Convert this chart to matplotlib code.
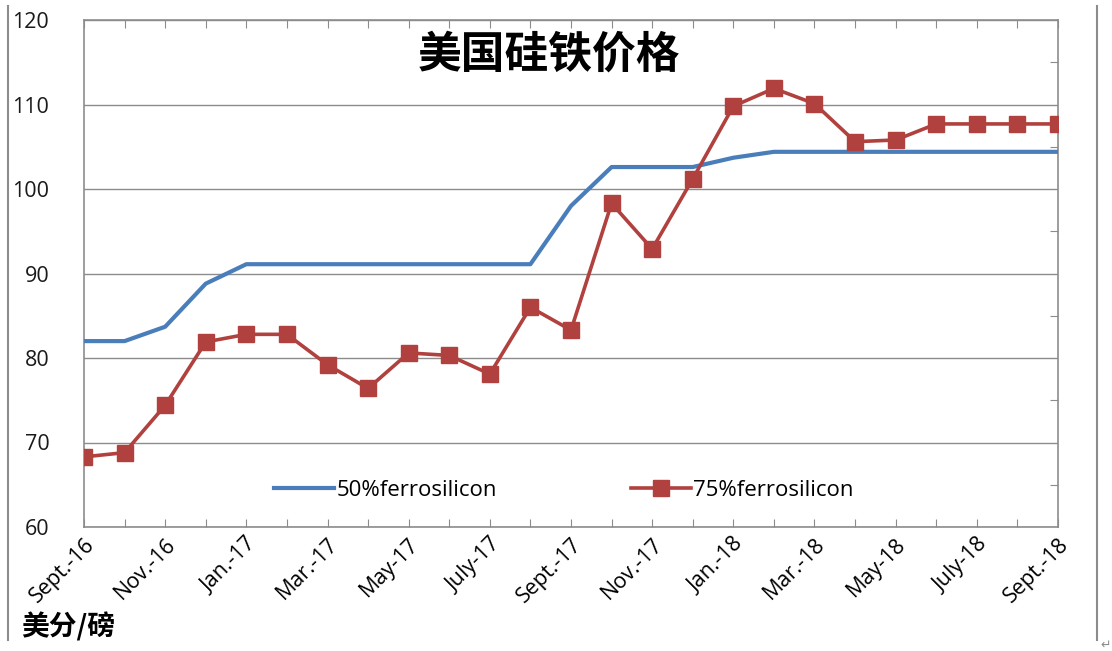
import matplotlib
matplotlib.use("Agg")
import matplotlib.pyplot as plt
from matplotlib.ticker import MultipleLocator, FixedLocator
from matplotlib.lines import Line2D

plt.rcParams['font.family'] = ['Open Sans', 'Noto Sans CJK SC', 'DejaVu Sans']

months = ["Sept.-16", "Oct.-16", "Nov.-16", "Dec.-16", "Jan.-17", "Feb.-17", "Mar.-17",
          "Apr.-17", "May-17", "June-17", "July-17", "Aug.-17", "Sept.-17", "Oct.-17",
          "Nov.-17", "Dec.-17", "Jan.-18", "Feb.-18", "Mar.-18", "Apr.-18", "May-18",
          "June-18", "July-18", "Aug.-18", "Sept.-18"]
fesi50 = [82.0, 82.0, 83.7, 88.8, 91.1, 91.1, 91.1, 91.1, 91.1, 91.1, 91.1, 91.1, 98.0,
          102.6, 102.6, 102.6, 103.7, 104.4, 104.4, 104.4, 104.4, 104.4, 104.4, 104.4, 104.4]
fesi75 = [68.3, 68.8, 74.4, 81.9, 82.8, 82.8, 79.2, 76.4, 80.6, 80.3, 78.1, 86.0, 83.3,
          98.3, 92.9, 101.2, 109.8, 111.9, 110.1, 105.6, 105.8, 107.7, 107.7, 107.7, 107.7]
labels_shown = ["Sept.-16", "Nov.-16", "Jan.-17", "Mar.-17", "May-17", "July-17", "Sept.-17",
                "Nov.-17", "Jan.-18", "Mar.-18", "May-18", "July-18", "Sept.-18"]
title = "美国硅铁价格"
unit = "美分/磅"
series_names = ["50%ferrosilicon", "75%ferrosilicon"]

blue = "#4A7EBB"
red = "#B0413E"
gray = "#8C8C8C"

fig = plt.figure(figsize=(11.12, 6.51), dpi=100)
ax = fig.add_axes([84/1112, 1-527/651, (1058-84)/1112, (527-20)/651])

x = list(range(len(months)))
ax.plot(x, fesi50, color=blue, lw=3.0, solid_capstyle='butt', zorder=3)
ax.plot(x, fesi75, color=red, lw=2.6, marker='s', markersize=11, zorder=4)

ax.set_xlim(0, len(months) - 1)
ax.set_ylim(60, 120)
ax.yaxis.set_major_locator(MultipleLocator(10))
ax.grid(axis='y', color=gray, lw=1.0, zorder=1)
for s in ax.spines.values():
    s.set_color(gray)
    s.set_linewidth(1.2)

# y labels
ax.tick_params(axis='y', which='major', length=0, pad=25, labelsize=15.5, labelcolor='#1a1a1a')
# x ticks inward at every month
ax.set_xticks(x)
ax.set_xticklabels([m if m in labels_shown else "" for m in months], rotation=45,
                   ha='right', rotation_mode='anchor', fontsize=15.5)
ax.tick_params(axis='x', direction='in', length=6, color=gray, top=True, pad=5)
# right minor ticks
sec = ax.secondary_yaxis('right')
sec.yaxis.set_major_locator(FixedLocator([65, 75, 85, 95, 105, 115]))
sec.tick_params(direction='in', length=6, color=gray, labelright=False)
sec.spines['right'].set_visible(False)

ax.text((549 - 84) / 974, 1 - (55 - 20) / 507, title, transform=ax.transAxes, ha='center',
        va='center', fontsize=31.5, fontweight='bold', family=['Noto Sans CJK SC'], color='black')

handles = [Line2D([], [], color=blue, lw=3.0),
           Line2D([], [], color=red, lw=2.6, marker='s', markersize=11)]
ax.legend(handles, series_names, loc='center', bbox_to_anchor=((564 - 84) / 974, 1 - (490 - 20) / 507),
          ncol=2, frameon=False, fontsize=16, handlelength=2.7, columnspacing=6.0,
          handletextpad=0.12, borderpad=0)

fig.text(21/1112, 1-627/651, unit, ha='left', va='center', fontsize=20, fontweight='bold',
         family=['Noto Sans CJK SC'])

# page frame lines
fig.add_artist(Line2D([8/1112, 8/1112], [1-6/651, 1-640/651], color=gray, lw=1.5))
fig.add_artist(Line2D([1097/1112, 1097/1112], [1-6/651, 1-640/651], color=gray, lw=1.5))
fig.text(1100/1112, 1-645/651, "↵", fontsize=9, color=gray, ha='left', va='center',
         family=['DejaVu Sans'])

fig.savefig("out.png", dpi=100, facecolor='white')
